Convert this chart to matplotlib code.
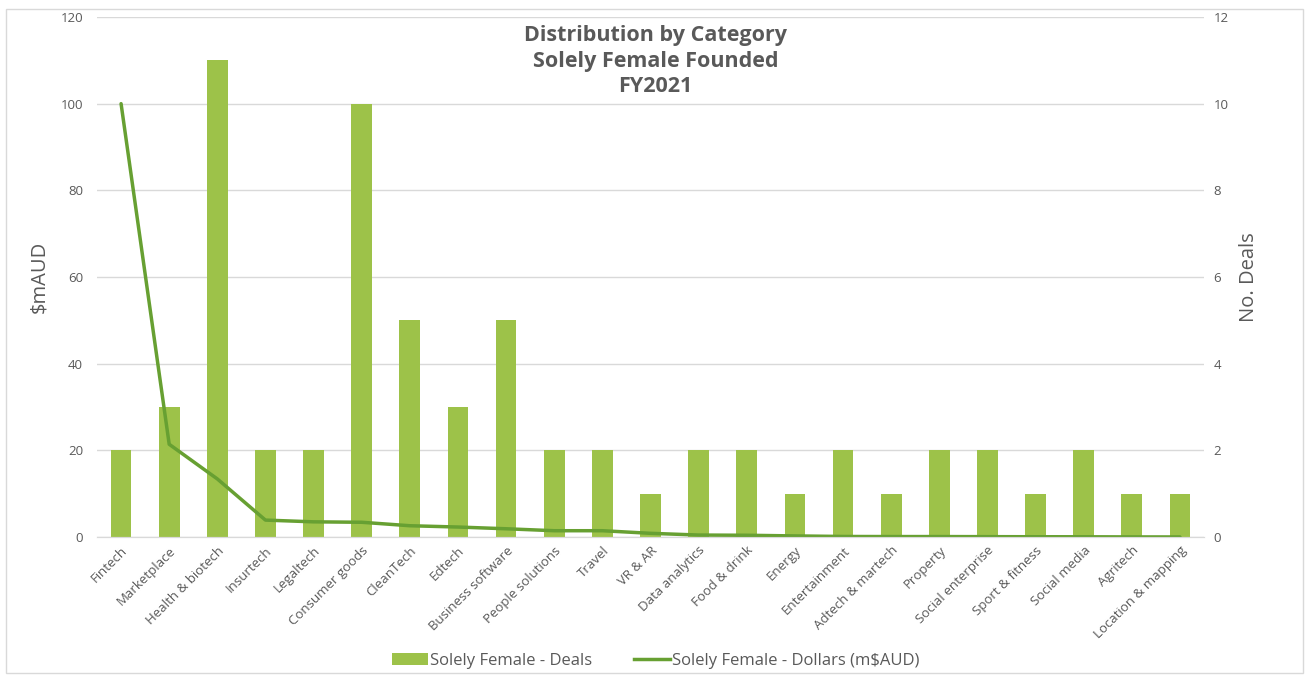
import matplotlib
matplotlib.use("Agg")
import matplotlib.pyplot as plt
from matplotlib.lines import Line2D
from matplotlib.patches import Patch

categories = [
    "Fintech", "Marketplace", "Health & biotech", "Insurtech", "Legaltech",
    "Consumer goods", "CleanTech", "Edtech", "Business software",
    "People solutions", "Travel", "VR & AR", "Data analytics", "Food & drink",
    "Energy", "Entertainment", "Adtech & martech", "Property",
    "Social enterprise", "Sport & fitness", "Social media", "Agritech",
    "Location & mapping",
]
deals = [2, 3, 11, 2, 2, 10, 5, 3, 5, 2, 2, 1, 2, 2, 1, 2, 1, 2, 2, 1, 2, 1, 1]
dollars = [100, 21.4, 13.4, 3.9, 3.5, 3.4, 2.6, 2.3, 1.9, 1.45, 1.45, 0.85,
           0.45, 0.4, 0.25, 0.12, 0.1, 0.1, 0.08, 0.06, 0.05, 0.02, 0.01]
left_ticks = [0, 20, 40, 60, 80, 100, 120]
right_ticks = [0, 2, 4, 6, 8, 10, 12]

BAR = "#9DC249"
LINE = "#67A032"
TEXT = "#595959"
GRID = "#D9D9D9"

plt.rcParams["font.family"] = ["Open Sans", "DejaVu Sans"]

fig = plt.figure(figsize=(13.11, 6.82), dpi=100)
fig.patches.append(plt.Rectangle((6 / 1311, 9 / 682), 1297 / 1311, 664 / 682,
                                 transform=fig.transFigure, fill=False,
                                 edgecolor="#D9D9D9", linewidth=1.0))

ax = fig.add_axes([97 / 1311, 1 - 537 / 682, 1107 / 1311, 520 / 682])
ax2 = ax.twinx()

x = list(range(len(categories)))

# Deals as bars on the secondary axis, with the gridlines behind them
ax2.bar(x, deals, width=0.43, color=BAR, zorder=2)
ax2.set_ylim(0, 12)
ax2.set_yticks(right_ticks)
ax2.set_axisbelow(True)
ax2.grid(axis="y", color=GRID, linewidth=1.0)

# Dollars as a line on the primary axis, drawn on top of the bars
ax.set_zorder(ax2.get_zorder() + 1)
ax.patch.set_visible(False)
ax.plot(x, dollars, color=LINE, linewidth=2.5, solid_capstyle="round")
ax.set_ylim(0, 120)
ax.set_yticks(left_ticks)
ax.set_xlim(-0.5, len(categories) - 0.5)
ax.set_xticks(x)
ax.set_xticklabels(categories, rotation=45, ha="right", rotation_mode="anchor",
                   fontsize=9, color=TEXT)

for a in (ax, ax2):
    for side in ("top", "left", "right"):
        a.spines[side].set_visible(False)
    a.spines["bottom"].set_color(GRID)
    a.tick_params(length=0, labelsize=9.5, labelcolor=TEXT)
ax.tick_params(axis="y", which="major", pad=10)
ax.tick_params(axis="x", which="major", pad=5)
ax2.tick_params(axis="y", which="major", pad=7)

ax.set_ylabel("$mAUD", color=TEXT, fontsize=14.5, labelpad=8)
ax2.set_ylabel("No. Deals", color=TEXT, fontsize=14.5, labelpad=7)

fig.text(0.5, 1 - 61 / 682, "Distribution by Category\nSolely Female Founded\nFY2021",
         ha="center", va="center", fontsize=15.5, fontweight="bold", color=TEXT,
         linespacing=1.25)

handles = [Patch(facecolor=BAR, edgecolor="none"),
           Line2D([0], [0], color=LINE, linewidth=2.5)]
fig.legend(handles, ["Solely Female - Deals", "Solely Female - Dollars (m$AUD)"],
           loc="center", bbox_to_anchor=(0.5, 1 - 661 / 682), ncol=2,
           frameon=False, fontsize=12, labelcolor=TEXT, handlelength=2.2,
           handletextpad=0.1, columnspacing=2.5)

fig.savefig("out.png", dpi=100)
